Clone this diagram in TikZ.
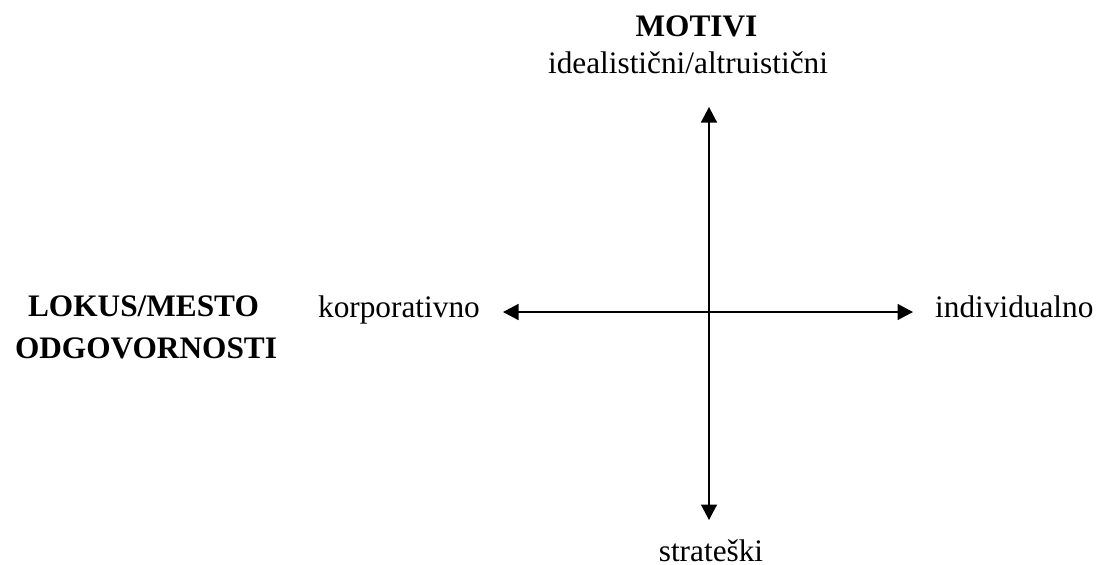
\documentclass[tikz,border=0pt]{standalone}
\usepackage{fontspec}
\setmainfont{Liberation Serif}
\usetikzlibrary{arrows.meta}

\begin{document}
\begin{tikzpicture}[x=1pt,y=-1pt,
  lbl/.style={inner sep=0pt,anchor=base,font=\fontsize{31.3}{40}\selectfont},
  head/.style={lbl,font=\fontsize{31.3}{40}\selectfont\bfseries},
  axis/.style={line width=1.5pt,{Triangle[length=15.5pt,width=16pt]}-{Triangle[length=15.5pt,width=16pt]}}]

\useasboundingbox (0,0) rectangle (1098,565);

% vertical axis
\coordinate (top) at (709,107);
\coordinate (bottom) at (709,520);
\draw [axis] (top) -- (bottom);

% horizontal axis
\coordinate (left) at (503,312);
\coordinate (right) at (913,312);
\draw [axis] (left) -- (right);

\node [head] (motivi) at (696.5,36) {MOTIVI};
\node [lbl] (ideal) at (688,73) {idealistični/altruistični};
\node [lbl] (strat) at (711,561) {strateški};
\node [lbl,anchor=base east] (korp) at (480,317) {korporativno};
\node [lbl,anchor=base west] (indiv) at (935,317) {individualno};
\node [head] (lokus) at (143.5,316) {LOKUS/MESTO};
\node [head] (odgov) at (146,358) {ODGOVORNOSTI};
\end{tikzpicture}
\end{document}
